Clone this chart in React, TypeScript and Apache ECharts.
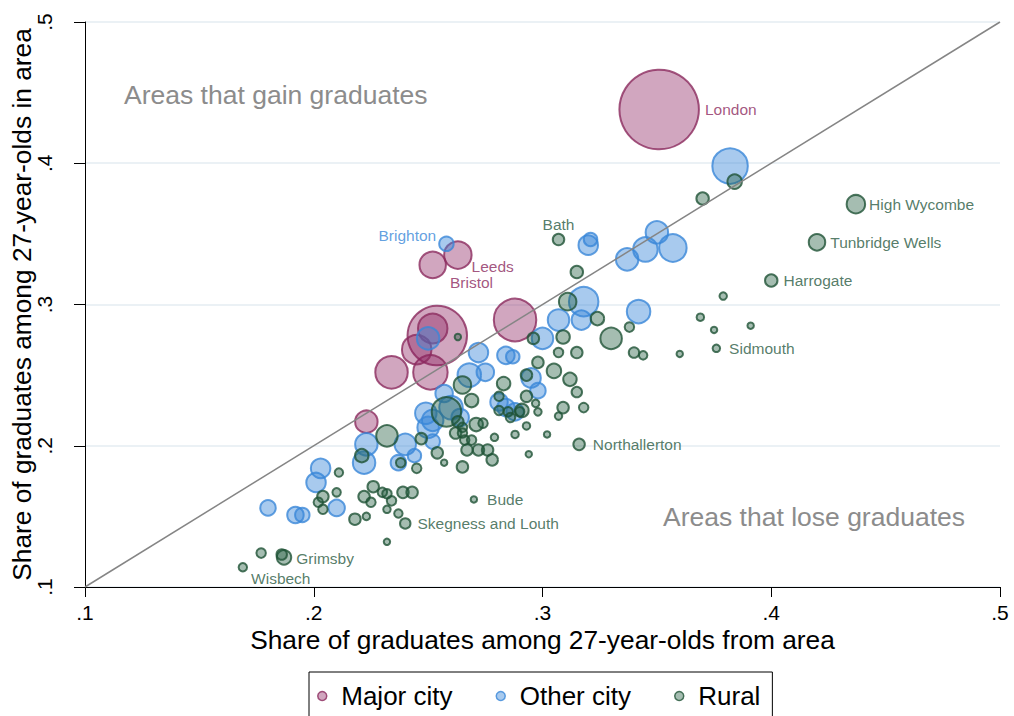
import { useEffect, useRef } from "react"
import * as echarts from "echarts"

// [share of graduates from area, share of graduates in area, cohort size, label]
type Row = [number, number, number, string]

const majorCities: Row[] = [
  [0.351, 0.438, 1600, "London"],
  [0.254, 0.278, 900, ""],
  [0.288, 0.289, 462, ""],
  [0.251, 0.252, 306, ""],
  [0.234, 0.252, 272, ""],
  [0.252, 0.283, 225, ""],
  [0.245, 0.268, 225, ""],
  [0.263, 0.335, 196, "Leeds"],
  [0.252, 0.328, 182, "Bristol"],
  [0.223, 0.217, 132, ""],
]

const otherCities: Row[] = [
  [0.258, 0.343, 56, "Brighton"],
  [0.25, 0.276, 132, ""],
  [0.382, 0.398, 324, ""],
  [0.35, 0.351, 132, ""],
  [0.345, 0.339, 156, ""],
  [0.357, 0.34, 196, ""],
  [0.337, 0.332, 132, ""],
  [0.342, 0.295, 144, ""],
  [0.32, 0.342, 100, ""],
  [0.321, 0.346, 49, ""],
  [0.318, 0.302, 225, ""],
  [0.307, 0.289, 121, ""],
  [0.317, 0.289, 100, ""],
  [0.3, 0.276, 121, ""],
  [0.284, 0.264, 81, ""],
  [0.287, 0.263, 49, ""],
  [0.272, 0.266, 100, ""],
  [0.268, 0.25, 144, ""],
  [0.275, 0.252, 81, ""],
  [0.295, 0.248, 100, ""],
  [0.298, 0.239, 64, ""],
  [0.281, 0.231, 81, ""],
  [0.284, 0.227, 81, ""],
  [0.288, 0.224, 81, ""],
  [0.257, 0.237, 81, ""],
  [0.249, 0.223, 121, ""],
  [0.252, 0.218, 121, ""],
  [0.25, 0.213, 121, ""],
  [0.26, 0.227, 144, ""],
  [0.264, 0.22, 81, ""],
  [0.24, 0.201, 121, ""],
  [0.244, 0.193, 49, ""],
  [0.252, 0.203, 56, ""],
  [0.237, 0.188, 64, ""],
  [0.223, 0.201, 132, ""],
  [0.222, 0.188, 132, ""],
  [0.203, 0.184, 100, ""],
  [0.201, 0.174, 100, ""],
  [0.18, 0.156, 64, ""],
  [0.192, 0.151, 72, ""],
  [0.195, 0.151, 56, ""],
  [0.21, 0.156, 72, ""],
]

const rural: Row[] = [
  [0.437, 0.371, 90, "High Wycombe"],
  [0.42, 0.344, 72, "Tunbridge Wells"],
  [0.4, 0.317, 42, "Harrogate"],
  [0.376, 0.269, 16, "Sidmouth"],
  [0.316, 0.201, 36, "Northallerton"],
  [0.27, 0.162, 12, "Bude"],
  [0.24, 0.145, 30, "Skegness and Louth"],
  [0.187, 0.121, 56, "Grimsby"],
  [0.186, 0.123, 30, ""],
  [0.169, 0.114, 20, "Wisbech"],
  [0.307, 0.346, 36, "Bath"],
  [0.177, 0.124, 25, ""],
  [0.384, 0.387, 56, ""],
  [0.37, 0.375, 42, ""],
  [0.379, 0.306, 16, ""],
  [0.369, 0.291, 16, ""],
  [0.375, 0.282, 12, ""],
  [0.391, 0.285, 12, ""],
  [0.36, 0.265, 12, ""],
  [0.34, 0.266, 30, ""],
  [0.344, 0.264, 20, ""],
  [0.338, 0.284, 25, ""],
  [0.33, 0.276, 121, ""],
  [0.315, 0.323, 42, ""],
  [0.311, 0.302, 81, ""],
  [0.324, 0.29, 49, ""],
  [0.296, 0.276, 36, ""],
  [0.309, 0.277, 49, ""],
  [0.307, 0.266, 25, ""],
  [0.315, 0.266, 36, ""],
  [0.298, 0.259, 36, ""],
  [0.305, 0.253, 56, ""],
  [0.312, 0.247, 49, ""],
  [0.315, 0.238, 30, ""],
  [0.293, 0.25, 36, ""],
  [0.283, 0.244, 49, ""],
  [0.281, 0.235, 25, ""],
  [0.281, 0.225, 25, ""],
  [0.285, 0.224, 25, ""],
  [0.286, 0.22, 25, ""],
  [0.29, 0.224, 25, ""],
  [0.293, 0.235, 36, ""],
  [0.297, 0.23, 16, ""],
  [0.298, 0.224, 16, ""],
  [0.291, 0.225, 49, ""],
  [0.309, 0.227, 36, ""],
  [0.307, 0.221, 16, ""],
  [0.318, 0.227, 25, ""],
  [0.288, 0.208, 16, ""],
  [0.293, 0.214, 16, ""],
  [0.302, 0.208, 12, ""],
  [0.294, 0.194, 12, ""],
  [0.263, 0.277, 12, ""],
  [0.258, 0.224, 225, ""],
  [0.265, 0.243, 81, ""],
  [0.269, 0.232, 49, ""],
  [0.263, 0.217, 36, ""],
  [0.265, 0.213, 25, ""],
  [0.271, 0.215, 49, ""],
  [0.274, 0.216, 25, ""],
  [0.262, 0.209, 36, ""],
  [0.265, 0.209, 25, ""],
  [0.266, 0.204, 25, ""],
  [0.269, 0.204, 25, ""],
  [0.279, 0.206, 16, ""],
  [0.267, 0.197, 36, ""],
  [0.272, 0.197, 36, ""],
  [0.276, 0.197, 36, ""],
  [0.278, 0.19, 36, ""],
  [0.254, 0.195, 36, ""],
  [0.257, 0.188, 12, ""],
  [0.265, 0.185, 36, ""],
  [0.245, 0.184, 25, ""],
  [0.238, 0.188, 25, ""],
  [0.247, 0.205, 36, ""],
  [0.232, 0.207, 121, ""],
  [0.221, 0.193, 49, ""],
  [0.211, 0.181, 20, ""],
  [0.21, 0.167, 20, ""],
  [0.204, 0.164, 36, ""],
  [0.202, 0.16, 25, ""],
  [0.204, 0.155, 25, ""],
  [0.218, 0.148, 36, ""],
  [0.223, 0.15, 16, ""],
  [0.222, 0.164, 36, ""],
  [0.226, 0.171, 36, ""],
  [0.225, 0.16, 25, ""],
  [0.23, 0.167, 25, ""],
  [0.232, 0.166, 25, ""],
  [0.234, 0.161, 25, ""],
  [0.232, 0.155, 16, ""],
  [0.237, 0.152, 20, ""],
  [0.239, 0.167, 36, ""],
  [0.243, 0.167, 36, ""],
  [0.232, 0.132, 12, ""],
]

const groupNames = ["Major city", "Other city", "Rural"]
const tickValues = [0.1, 0.2, 0.3, 0.4, 0.5]
const gainText = "Areas that gain graduates"
const loseText = "Areas that lose graduates"
const xTitle = "Share of graduates among 27-year-olds from area"
const yTitle = "Share of graduates among 27-year-olds in area"

// where each city name sits next to its bubble (nudges in px)
const labelPlacement: Record<string, { position: string; nudge?: number[] }> = {
  London: { position: "right" },
  Leeds: { position: "right", nudge: [-6, 11] },
  Bristol: { position: "right", nudge: [-2, 18] },
  Brighton: { position: "left", nudge: [3, -8] },
  Bath: { position: "top", nudge: [0, 5] },
  "High Wycombe": { position: "right", nudge: [-2, 0] },
  "Tunbridge Wells": { position: "right", nudge: [-1, 0] },
  Harrogate: { position: "right" },
  Sidmouth: { position: "right", nudge: [3, 0] },
  Northallerton: { position: "right", nudge: [2, 0] },
  Bude: { position: "right", nudge: [4, 0] },
  "Skegness and Louth": { position: "right", nudge: [1, 0] },
  Grimsby: { position: "right", nudge: [-1, 1] },
  Wisbech: { position: "right", nudge: [-2, 11] },
}

const FONT = "'Liberation Sans', Arial, Helvetica, sans-serif"

const palette = [
  { stroke: "#8b2a5e", fill: "rgba(139, 32, 96, 0.5)", text: "#8b2a5e" },
  { stroke: "#3a87d8", fill: "rgba(58, 135, 216, 0.55)", text: "#3a87d8" },
  { stroke: "#1f5236", fill: "rgba(31, 90, 60, 0.5)", text: "#2a5a42" },
]

function toSeriesData(rows: Row[], textColor: string) {
  return rows.map(([x, y, cohort, name]) => {
    const place = labelPlacement[name]
    return {
      name,
      value: [x, y, cohort],
      label: place
        ? {
            show: true,
            position: place.position,
            distance: 5,
            formatter: name,
            color: textColor,
            fontSize: 15.5,
            fontFamily: FONT,
          }
        : { show: false },
    }
  })
}

export default function App() {
  const chartRef = useRef<HTMLDivElement>(null)

  useEffect(() => {
    if (!chartRef.current) return
    const chart = echarts.init(chartRef.current, null, { renderer: "svg" })

    const lo = tickValues[0]
    const hi = tickValues[tickValues.length - 1]
    const groups = [majorCities, otherCities, rural]

    const bubbleSeries = groups.map((rows, i) => ({
      name: groupNames[i],
      type: "scatter",
      data: toSeriesData(rows, palette[i].text),
      symbol: "circle",
      symbolSize: (val: number[]) => Math.max(5, Math.sqrt(val[2]) * 2 - 0.5),
      itemStyle: {
        color: palette[i].fill,
        borderColor: palette[i].stroke,
        borderWidth: 2,
      },
      labelLayout: (params: any) => {
        const name = rows[params.dataIndex]?.[3] ?? ""
        const nudge = labelPlacement[name]?.nudge ?? [0, 0]
        return { dx: nudge[0], dy: nudge[1], hideOverlap: false }
      },
      z: 2 + i,
    }))

    const tickFormat = (v: number) => v.toFixed(1).replace(/^0/, "")

    const option = {
      animation: false,
      grid: { left: 85, right: 14, top: 22, bottom: 129, outerBoundsMode: "none", containLabel: false },
      xAxis: {
        type: "value",
        min: lo,
        max: hi,
        interval: 0.1,
        name: xTitle,
        nameLocation: "middle",
        nameGap: 40,
        nameMoveOverlap: false,
        nameTextStyle: { fontSize: 26.3, fontFamily: FONT, color: "#000" },
        axisLine: { show: true, lineStyle: { color: "#000", width: 1 } },
        axisTick: { show: true, length: 10, lineStyle: { color: "#000" } },
        axisLabel: {
          fontSize: 21,
          fontFamily: FONT,
          color: "#000",
          margin: 15,
          formatter: tickFormat,
        },
        splitLine: { show: false },
      },
      yAxis: {
        type: "value",
        min: lo,
        max: hi,
        interval: 0.1,
        name: yTitle,
        nameLocation: "middle",
        nameGap: 50,
        nameMoveOverlap: false,
        nameTextStyle: { fontSize: 26.3, fontFamily: FONT, color: "#000" },
        axisLine: { show: true, lineStyle: { color: "#000", width: 1 } },
        axisTick: { show: true, length: 11, lineStyle: { color: "#000" } },
        axisLabel: {
          rotate: 90,
          fontSize: 21,
          fontFamily: FONT,
          color: "#000",
          margin: 30,
          formatter: tickFormat,
        },
        splitLine: { show: true, lineStyle: { color: "#e4edf2", width: 1.5 } },
      },
      legend: {
        data: groupNames,
        left: 309,
        top: 672,
        padding: [11, 12, 12, 8],
        itemGap: 43,
        itemWidth: 28,
        itemHeight: 9,
        borderColor: "#000",
        borderWidth: 1,
        icon: "circle",
        itemStyle: { borderWidth: 1.5 },
        textStyle: { fontSize: 26, fontFamily: FONT, color: "#000" },
      },
      graphic: [
        {
          type: "text",
          x: 124,
          y: 95,
          silent: true,
          style: {
            text: gainText,
            fill: "#8c8c8c",
            fontSize: 26.5,
            fontFamily: FONT,
            verticalAlign: "middle",
          },
        },
        {
          type: "text",
          x: 663,
          y: 517,
          silent: true,
          style: {
            text: loseText,
            fill: "#8c8c8c",
            fontSize: 26.5,
            fontFamily: FONT,
            verticalAlign: "middle",
          },
        },
      ],
      series: [
        ...bubbleSeries,
        {
          name: "diagonal",
          type: "line",
          data: [
            [lo, lo],
            [hi, hi],
          ],
          symbol: "none",
          silent: true,
          lineStyle: { color: "#858585", width: 1.5 },
          z: 6,
        },
      ],
    }

    chart.setOption(option)

    return () => {
      chart.dispose()
    }
  }, [])

  return (
    <div
      ref={chartRef}
      style={{ position: "fixed", left: 0, top: 0, width: 1014, height: 716, background: "#fff" }}
    />
  )
}
